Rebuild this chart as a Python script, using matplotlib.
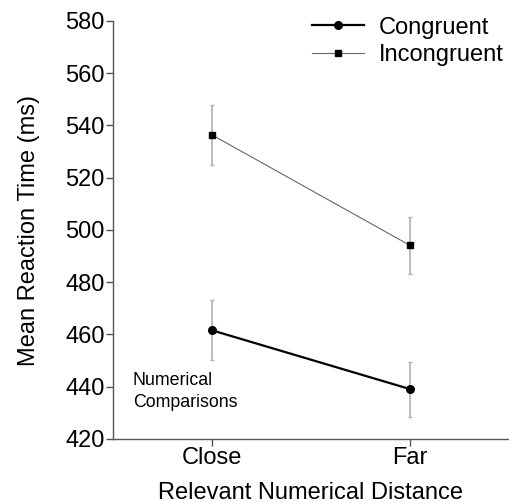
import matplotlib
matplotlib.use("Agg")
import matplotlib.pyplot as plt
from matplotlib.lines import Line2D

categories = ["Close", "Far"]
congruent = [461.6, 439.1]
congruent_err = [11.5, 10.5]
incongruent = [536.4, 494.1]
incongruent_err = [11.6, 10.9]
yticks = [420, 440, 460, 480, 500, 520, 540, 560, 580]

plt.rcParams['font.family'] = ['Liberation Sans', 'DejaVu Sans']

fig = plt.figure(figsize=(5.09, 5.03), dpi=100)
ax = fig.add_axes([113/509, 1 - 439/503, (509-113)/509, (439-21)/503])

x = list(range(len(categories)))
ax.errorbar(x, incongruent, yerr=incongruent_err, color='#666666', lw=0.8,
            marker='s', ms=5, mfc='black', mec='black', ecolor='#b0b0b0',
            elinewidth=1.2, capsize=1.2, capthick=1.0, label='Incongruent', zorder=3)
ax.errorbar(x, congruent, yerr=congruent_err, color='black', lw=1.6,
            marker='o', ms=5.5, mfc='black', mec='black', ecolor='#b0b0b0',
            elinewidth=1.2, capsize=1.2, capthick=1.0, label='Congruent', zorder=3)

ax.set_xlim(-0.5, 1.5)
ax.set_ylim(420, 580)
ax.set_yticks(yticks)
ax.set_xticks(x)
ax.set_xticklabels(categories)
ax.tick_params(axis='both', labelsize=17, colors='#555555', labelcolor='black', length=5, width=1)
ax.tick_params(axis='x', pad=1)
ax.tick_params(axis='y', pad=1)
for s in ['top', 'right']:
    ax.spines[s].set_visible(False)
for s in ['left', 'bottom']:
    ax.spines[s].set_color('#555555')
    ax.spines[s].set_linewidth(1.0)

ax.set_ylabel('Mean Reaction Time (ms)', fontsize=17, labelpad=18)
ax.set_xlabel('Relevant Numerical Distance', fontsize=17, labelpad=9)

ax.text(-0.399, 438.2, 'Numerical\nComparisons', fontsize=12.8, va='center', ha='left', linespacing=1.35)

h1 = Line2D([], [], color='black', lw=1.6, marker='o', ms=5.5)
h2 = Line2D([], [], color='#666666', lw=0.8, marker='s', ms=5, mfc='black', mec='black')
ax.legend([h1, h2], ['Congruent', 'Incongruent'], loc='upper right', frameon=False,
          fontsize=17, handlelength=2.2, handletextpad=0.64, borderaxespad=0.0,
          bbox_to_anchor=(1.01, 1.033), labelspacing=0.22)

fig.savefig('out.png', dpi=100)
